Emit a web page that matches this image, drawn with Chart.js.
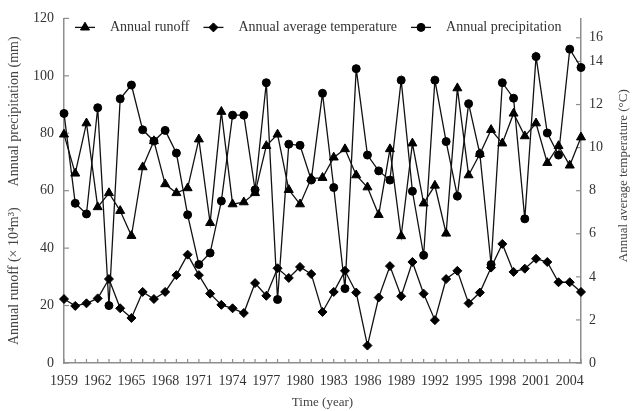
<!DOCTYPE html>
<html><head><meta charset="utf-8">
<script src="https://cdn.jsdelivr.net/npm/chart.js@4.4.1/dist/chart.umd.min.js"></script>
<style>html,body{margin:0;padding:0;background:#fff}#wrap{width:632px;height:411px}</style>
</head><body><div id="wrap"><canvas id="c" width="632" height="411"></canvas></div>
<script>
const years = ['1959','1960','1961','1962','1963','1964','1965','1966','1967','1968','1969','1970','1971','1972','1973','1974','1975','1976','1977','1978','1979','1980','1981','1982','1983','1984','1985','1986','1987','1988','1989','1990','1991','1992','1993','1994','1995','1996','1997','1998','1999','2000','2001','2002','2003','2004','2005'];
const runoff = [79.6,66.0,83.5,54.3,59.2,53.0,44.3,68.2,77.3,62.3,59.2,60.9,77.9,48.8,87.5,55.3,56.0,59.2,75.6,79.6,60.3,55.3,64.3,64.5,71.6,74.5,65.4,61.2,51.6,74.5,44.2,76.5,55.6,61.8,45.1,95.7,65.4,72.8,81.2,76.5,86.9,79.0,83.5,69.7,75.6,68.8,78.6];
const temperature = [2.97,2.65,2.77,3.0,3.9,2.54,2.09,3.3,2.97,3.3,4.08,5.03,4.08,3.22,2.7,2.54,2.32,3.71,3.12,4.4,3.95,4.46,4.13,2.37,3.3,4.28,3.27,0.81,3.04,4.5,3.1,4.69,3.22,1.99,3.9,4.28,2.77,3.27,4.43,5.53,4.23,4.38,4.84,4.69,3.75,3.75,3.3];
const precipitation = [86.9,55.6,51.9,88.9,20.0,92.0,96.8,81.2,77.3,81.0,73.1,51.6,34.3,38.3,56.4,86.3,86.3,60.3,97.6,22.1,76.2,75.8,63.7,93.9,61.1,25.9,102.5,72.4,66.9,63.7,98.5,59.8,37.5,98.5,77.1,58.1,90.3,72.8,34.3,97.6,92.2,50.2,106.7,80.1,72.4,109.3,102.9];
const leftTicks = [0,20,40,60,80,100,120];
const rightTicks = [0,2,4,6,8,10,12,14,16];

const AXIS = '#8e8e8e';
const TEXT = '#333';
const SERIF = '"Liberation Serif", "Times New Roman", serif';
Chart.defaults.font.family = SERIF;
Chart.defaults.font.size = 14;
Chart.defaults.color = TEXT;

const inwardTicks = {
  id: 'inwardTicks',
  beforeDatasetsDraw(chart) {
    const ctx = chart.ctx;
    ctx.save();
    ctx.strokeStyle = AXIS; ctx.lineWidth = 1.2;
    const line = (a, b, c, d) => { ctx.beginPath(); ctx.moveTo(a, b); ctx.lineTo(c, d); ctx.stroke(); };
    const x = chart.scales.x;
    for (let i = 0; i < x.ticks.length; i++) { const p = x.getPixelForTick(i); line(p, x.top, p, x.top - 4); }
    const y = chart.scales.y;
    y.ticks.forEach(t => { const p = y.getPixelForValue(t.value); line(y.right, p, y.right + 5, p); });
    const y1 = chart.scales.y1;
    y1.ticks.forEach(t => { const p = y1.getPixelForValue(t.value); line(y1.left, p, y1.left - 5, p); });
    ctx.restore();
  }
};

const inlineLegend = {
  id: 'inlineLegend',
  afterDraw(chart) {
    const ctx = chart.ctx, ca = chart.chartArea;
    ctx.save();
    ctx.font = '14px ' + SERIF;
    ctx.textBaseline = 'middle';
    let x = ca.left + 11;
    const y = ca.top + 9;
    chart.data.datasets.forEach(ds => {
      ctx.strokeStyle = ds.borderColor; ctx.lineWidth = ds.borderWidth;
      ctx.beginPath(); ctx.moveTo(x, y); ctx.lineTo(x + 20, y); ctx.stroke();
      ctx.fillStyle = ds.pointBackgroundColor; ctx.strokeStyle = ds.pointBorderColor; ctx.lineWidth = 1;
      Chart.helpers.drawPoint(ctx, {pointStyle: ds.pointStyle, radius: ds.pointRadius, borderWidth: 1, rotation: 0}, x + 10, y);
      ctx.fillStyle = TEXT;
      ctx.fillText(ds.label, x + 35, y);
      x += 35 + ctx.measureText(ds.label).width + 14;
    });
    ctx.restore();
  }
};

const rightTitle = {
  id: 'rightTitle',
  afterDraw(chart) {
    const ctx = chart.ctx, ca = chart.chartArea;
    ctx.save();
    ctx.font = '13px ' + SERIF;
    ctx.fillStyle = '#444';
    ctx.textAlign = 'center'; ctx.textBaseline = 'middle';
    ctx.translate(chart.width - 8, (ca.top + ca.bottom) / 2 - 15);
    ctx.rotate(-Math.PI / 2);
    ctx.fillText('Annual average temperature (°C)', 0, 0);
    ctx.restore();
  }
};

const mk = (label, data, style, r, axis) => ({
  label, data, yAxisID: axis,
  borderColor: '#111', borderWidth: 1.3,
  pointStyle: style, pointRadius: r, pointHoverRadius: r,
  pointBackgroundColor: '#000', pointBorderColor: '#000', pointBorderWidth: 1,
  tension: 0, fill: false
});

new Chart(document.getElementById('c'), {
  type: 'line',
  data: {
    labels: years,
    datasets: [
      mk('Annual runoff', runoff, 'triangle', 5.2, 'y'),
      mk('Annual average temperature', temperature, 'rectRot', 4.5, 'y1'),
      mk('Annual precipitation', precipitation, 'circle', 4, 'y')
    ]
  },
  options: {
    responsive: false, animation: false,
    layout: {padding: {left: 6, top: 9, right: 0, bottom: 0}},
    plugins: {legend: {display: false}, tooltip: {enabled: false}},
    scales: {
      x: {
        type: 'category', offset: false,
        grid: {display: true, drawOnChartArea: false, drawTicks: false},
        border: {display: true, color: AXIS, width: 1.5},
        ticks: {autoSkip: false, maxRotation: 0, minRotation: 0, padding: 10,
          callback: (v, i) => (i % 3 === 0 && i < years.length - 1) ? years[i] : ''},
        title: {display: true, text: 'Time (year)', font: {size: 13}, color: '#444', padding: {top: 0, bottom: 1}},
        afterFit: s => { s.height = 48; }
      },
      y: {
        position: 'left', min: 0, max: 120,
        grid: {display: true, drawOnChartArea: false, drawTicks: false},
        border: {display: true, color: AXIS, width: 1.5},
        afterBuildTicks: s => { s.ticks = leftTicks.map(v => ({value: v})); },
        ticks: {padding: 10},
        title: {display: true, text: 'Annual runoff (× 10⁴m³)      Annual precipitation (mm)', font: {size: 14}, color: '#444', padding: 0},
        afterFit: s => { s.width = 58; }
      },
      y1: {
        position: 'right', min: 0, max: 16,
        grid: {display: true, drawOnChartArea: false, drawTicks: false},
        border: {display: true, color: AXIS, width: 1.5},
        afterBuildTicks: s => { s.ticks = rightTicks.map(v => ({value: v === 16 ? 15.1 : v, label: String(v)})); },
        ticks: {padding: 8, callback: function(v, i) { return String(rightTicks[i]); }},
        afterFit: s => { s.width = 51; }
      }
    }
  },
  plugins: [inwardTicks, inlineLegend, rightTitle]
});
</script>
</body></html>
